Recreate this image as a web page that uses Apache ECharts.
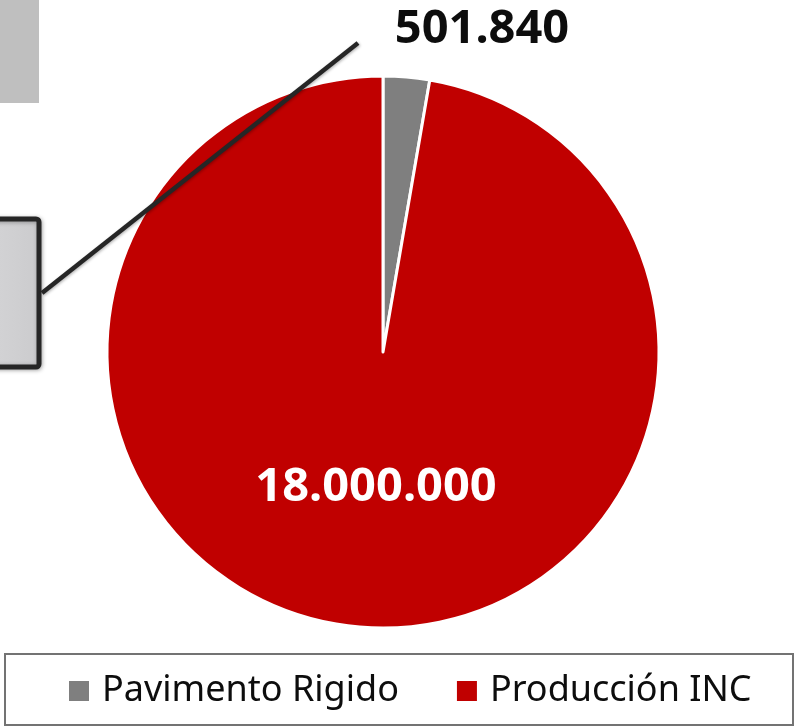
<!DOCTYPE html>
<html>
<head>
<meta charset="utf-8">
<script src="https://cdn.jsdelivr.net/npm/echarts@6/dist/echarts.min.js"></script>
<style>
html,body{margin:0;padding:0;background:#fff;}
#c{width:798px;height:728px;}
</style>
</head>
<body>
<div id="c"></div>
<script>
const categories = ['Pavimento Rigido', 'Producción INC'];
const values = [501840, 18000000];
const colors = ['#7f7f7f', '#c00000'];

function fmt(v) {
  return String(v).replace(/\B(?=(\d{3})+(?!\d))/g, '.');
}

const chart = echarts.init(document.getElementById('c'));
chart.setOption({
  animation: false,
  legend: {
    data: categories,
    left: 62,
    top: 668,
    icon: 'rect',
    itemWidth: 22,
    itemHeight: 22,
    itemGap: 56,
    textStyle: {
      fontFamily: 'Noto Sans',
      fontSize: 36,
      color: '#0d0d0d',
      padding: [0, 0, 0, 7]
    }
  },
  graphic: [
    { type: 'rect', shape: { x: 0, y: 0, width: 39, height: 103 }, style: { fill: '#bfbfbf' }, z: 1 },
    { type: 'rect', shape: { x: 5, y: 654, width: 788, height: 71 }, style: { fill: 'none', stroke: '#737373', lineWidth: 2 }, z: 1 },
    { type: 'rect', shape: { x: -10, y: 219, width: 49, height: 148, r: 3 },
      style: {
        fill: new echarts.graphic.LinearGradient(0, 0, 1, 0, [
          { offset: 0, color: '#d4d4d6' }, { offset: 1, color: '#cbcbcd' }
        ]),
        stroke: '#262626', lineWidth: 5,
        shadowColor: 'rgba(0,0,0,0.3)', shadowBlur: 4, shadowOffsetX: 1, shadowOffsetY: 1
      }, z: 10 },
    { type: 'line', shape: { x1: 42, y1: 293, x2: 358, y2: 43 },
      style: { stroke: '#262626', lineWidth: 4.5, shadowColor: 'rgba(0,0,0,0.3)', shadowBlur: 3, shadowOffsetX: 1, shadowOffsetY: 1 }, z: 10 }
  ],
  series: [{
    type: 'pie',
    center: [383, 352],
    radius: [0, 276],
    startAngle: 90,
    clockwise: true,
    avoidLabelOverlap: false,
    itemStyle: { borderColor: '#ffffff', borderWidth: 3 },
    data: categories.map((n, i) => ({
      name: n,
      value: values[i],
      itemStyle: { color: colors[i] },
      label: i === 0
        ? { position: 'outside', color: '#0d0d0d' }
        : { position: 'inside', color: '#ffffff' },
      labelLine: { show: false }
    })),
    label: {
      show: true,
      formatter: p => fmt(p.value),
      fontFamily: 'Noto Sans',
      fontWeight: 'bold',
      fontSize: 47
    },
    labelLayout: function (p) {
      if (p.dataIndex === 0) {
        return { x: 482, y: 30, align: 'center', verticalAlign: 'middle' };
      }
      return { x: 376, y: 488, align: 'center', verticalAlign: 'middle' };
    }
  }]
});
</script>
</body>
</html>
